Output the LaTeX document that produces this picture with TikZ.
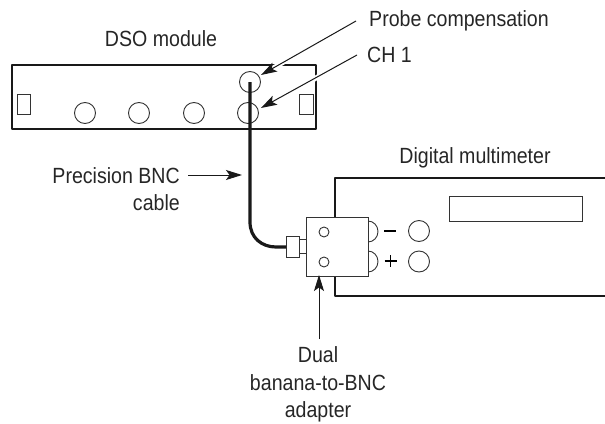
\documentclass[tikz,border=0pt]{standalone}
\usepackage{fontspec}
\setmainfont[FakeStretch=0.89]{Liberation Sans}
\usetikzlibrary{arrows.meta}
\tikzset{
  thick box/.style={draw=black!90,line width=2.3pt,line join=round},
  thin part/.style={draw=black!80,line width=0.9pt,fill=white},
  jack/.style={circle,draw=black!80,line width=0.9pt,minimum size=21pt,inner sep=0pt},
  small jack/.style={circle,draw=black!80,line width=0.9pt,minimum size=10pt,inner sep=0pt},
  callout/.style={draw=black!90,line width=1pt,-{Stealth[length=16pt,width=10pt,inset=3.5pt]}},
  halo/.style={draw=white,line width=5pt},
  label text/.style={font=\fontsize{22}{27.5}\selectfont,text=black!85,inner sep=0pt,align=center}
}
\begin{document}
\begin{tikzpicture}[x=1pt,y=-1pt]
\useasboundingbox (0,0) rectangle (605,423);
% DSO module
\node[label text,anchor=base] (dsolabel) at (161,46) {DSO module};
\draw[thick box] (12,65) rectangle (316,129);
\node[jack] (probe) at (250,82) {};
\node[jack] (c1) at (85,113) {};
\node[jack] (c2) at (139,113) {};
\node[jack] (c3) at (194,113) {};
\node[jack] (ch1) at (248,113) {};
\draw[thin part] (17,94) rectangle (30,114);
\draw[thin part] (299,94) rectangle (313,114);
% Multimeter
\node[label text,anchor=base] (dmmlabel) at (475,163) {Digital multimeter};
\draw[thick box] (605,178) -- (335,178) -- (335,296) -- (605,296);
\draw[thin part] (449,196) rectangle (582,221);
% Adapter
\draw[thin part] (368,221) arc[start angle=-90,end angle=90,x radius=10,y radius=10.5];
\draw[thin part] (368,251) arc[start angle=-90,end angle=90,x radius=10,y radius=10.5];
\draw[thin part] (306,217) rectangle (368,276);
\node[small jack] (h1) at (324,232) {};
\node[small jack] (h2) at (324,262) {};
\draw[thin part] (299,239) rectangle (306,253);
\draw[thin part] (286,236) rectangle (299,257);
\coordinate (plugend) at (286,247);
\draw[line width=1.6pt] (384,231) -- (396,231);
\draw[line width=1.8pt] (384.5,261) -- (396.5,261) (390.5,255) -- (390.5,267);
\node[jack] (m1) at (419,231) {};
\node[jack] (m2) at (419,261.5) {};
% Cable
\draw[line width=3.2pt,draw=black!90] (probe.center) -- (250,222) .. controls (250,238) and (262,247) .. (276,247) -- (plugend);
% Labels
\node[label text,anchor=base west] (pc) at (369,27) {Probe compensation};
\node[label text,anchor=base west] (ch) at (367,62) {CH 1};
\node[label text,anchor=base east] (cable) at (180,183) {Precision BNC};
\node[label text,anchor=base east] (cable2) at (180,210) {cable};
\node[label text,anchor=base] (dual) at (318,362) {Dual};
\node[label text,anchor=base] (dual2) at (318,390) {banana-to-BNC};
\node[label text,anchor=base] (dual3) at (318,417) {adapter};
\coordinate (pcfrom) at (356,21);
\coordinate (chfrom) at (357,55);
\coordinate (cablefrom) at (188,175);
\coordinate (dualfrom) at (319,339);
\coordinate (pctip) at (261,75);
\coordinate (chtip) at (261,108);
\coordinate (pcgapa) at (287,60);
\coordinate (pcgapb) at (270,70);
\coordinate (chgapa) at (321,75);
\coordinate (chgapb) at (311,81);
\draw[halo] (pcgapa) -- (pcgapb);
\draw[halo] (chgapa) -- (chgapb);
\draw[callout] (pcfrom) -- (pctip);
\draw[callout] (chfrom) -- (chtip);
\draw[callout] (cablefrom) -- (242,175);
\draw[callout] (dualfrom) -- (319,275);
\end{tikzpicture}
\end{document}
